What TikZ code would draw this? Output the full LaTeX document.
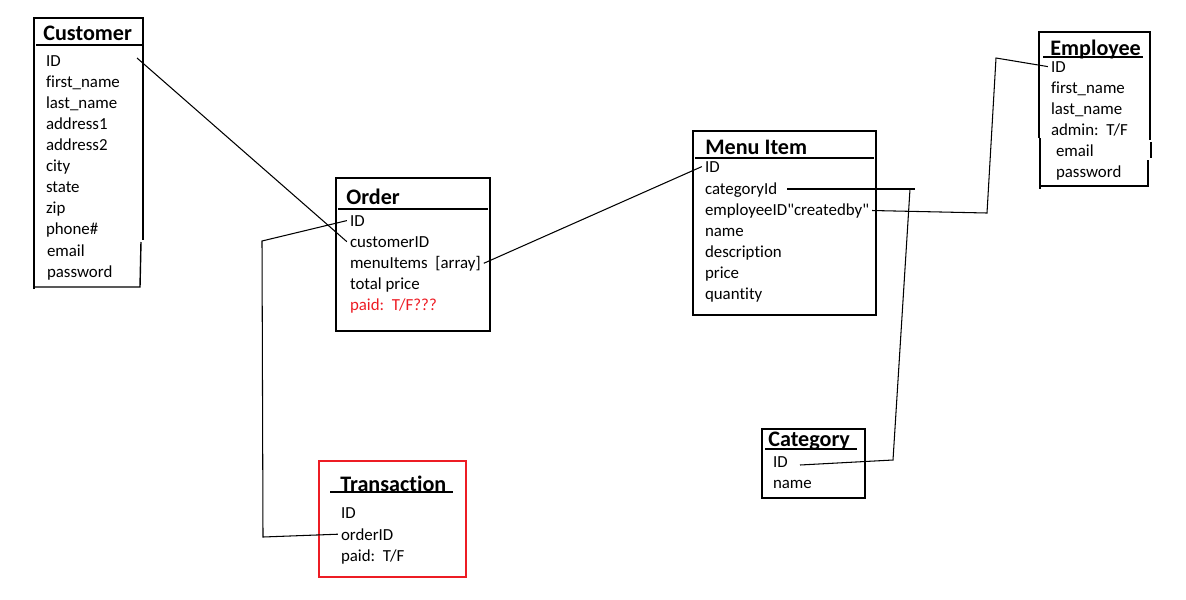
\documentclass[tikz,border=0pt]{standalone}
\usepackage{fontspec}
\setmainfont{Carlito}[Ligatures={NoCommon}]
\usepackage{tikz}
\usepackage{color}
\definecolor{paintred}{rgb}{0.93, 0.11, 0.14}
\newcommand{\fieldfont}{\fontsize{9.6}{11}\selectfont}
\newcommand{\titlefont}{\fontsize{12.6}{14}\selectfont\bfseries}
\tikzstyle{field} = [anchor=base west,inner sep=0pt,outer xsep=1.8pt,xshift=-1.8pt,font=\fieldfont]
\tikzstyle{title} = [anchor=base west,inner sep=0pt,font=\titlefont]
\tikzstyle{box} = [line width=.8pt]
\tikzstyle{link} = [line width=.6pt]

\begin{document}
\begin{tikzpicture}[x=0.02cm,y=-0.02cm]
		\useasboundingbox (0,0) rectangle (1186,599);

		\draw[box] (34,289) -- (34,18) -- (143,18) -- (143,240);
		\draw[box] (141,242) -- (140,287) -- (34,287);
		\draw[box] (36,45) -- (143,45);
		\node [title](cust) at (43,40){Customer};
		\node [field](cid) at (46,66){ID};
		\node [field](cfirst) at (46,87){first\_name};
		\node [field](clast) at (46,108){last\_name};
		\node [field](caddr1) at (46,129){address1};
		\node [field](caddr2) at (46,150){address2};
		\node [field](ccity) at (46,171){city};
		\node [field](cstate) at (46,192){state};
		\node [field](czip) at (46,213){zip};
		\node [field](cphone) at (46,234){phone\#};
		\node [field](cemail) at (47,256){email};
		\node [field](cpass) at (47,277){password};

		\draw[box] (336,178) rectangle (490,331);
		\draw[box] (338,209) -- (488,209);
		\node [title](ord) at (346,204){Order};
		\node [field](oid) at (350,226){ID};
		\node [field](ocust) at (350,247){customerID};
		\node [field](oitems) at (350,268){menuItems~~[array]};
		\node [field](ototal) at (350,289){total price};
		\node [field,text=paintred](opaid) at (350,310){paid:~~T/F???};

		\draw[box] (693,131) rectangle (876,315);
		\draw[box] (695,158) -- (874,158);
		\node [title](menu) at (705,154){Menu Item};
		\node [field](mid) at (705,172){ID};
		\node [field](mcat) at (705,194){categoryId};
		\node [field](memp) at (705,215){employeeID\textquotedbl createdby\textquotedbl};
		\node [field](mname) at (705,236){name};
		\node [field](mdesc) at (705,257){description};
		\node [field](mprice) at (705,278){price};
		\node [field](mqty) at (705,299){quantity};

		\draw[box] (1039,138) -- (1039,32) -- (1150,32) -- (1150,140);
		\draw[box] (1151,142) -- (1151,158);
		\draw[box] (1148,160) -- (1148,186) -- (1040,186);
		\draw[box] (1040,138) -- (1040,189);
		\draw[box] (1043,57) -- (1143,57);
		\node [title](emp) at (1050,55){Employee};
		\node [field](eid) at (1051,72){ID};
		\node [field](efirst) at (1051,93){first\_name};
		\node [field](elast) at (1051,114){last\_name};
		\node [field](eadmin) at (1051,135){admin:~~T/F};
		\node [field](eemail) at (1056,156){email};
		\node [field](epass) at (1056,177){password};

		\draw[box] (762,429) rectangle (865,498);
		\draw[box] (765,449) -- (857,449);
		\node [title](cat) at (768,446){Category};
		\node [field](catid) at (773,467){ID};
		\node [field](catname) at (773,488){name};

		\draw[box,paintred] (319,461) rectangle (466,577);
		\draw[box] (330,492) -- (453,492);
		\node [title](trans) at (340,491){Transaction};
		\node [field](tid) at (341,518){ID};
		\node [field](toid) at (341,540){orderID};
		\node [field](tpaid) at (341,561){paid:~~T/F};

		\coordinate (cidend) at (137,58);
		\coordinate (obend) at (262,241);
		\coordinate (tbend) at (263,537);
		\coordinate (mcatend) at (787,189);
		\coordinate (mcatstub) at (915,189);
		\coordinate (mcattop) at (910,189);
		\coordinate (cbend) at (893,460);
		\coordinate (catidend) at (800,465);
		\coordinate (ebend) at (987,213);
		\coordinate (etop) at (996,58);

		\draw[link](cidend)--(ocust.west);
		\draw[link](oid.west)--(obend)--(tbend)--(toid.west);
		\draw[link](oitems.east)--(mid.west);
		\draw[link](mcatend)--(mcatstub);
		\draw[link](mcattop)--(cbend)--(catidend);
		\draw[link](memp.east)--(ebend)--(etop)--(eid.west);
\end{tikzpicture}
\end{document}
